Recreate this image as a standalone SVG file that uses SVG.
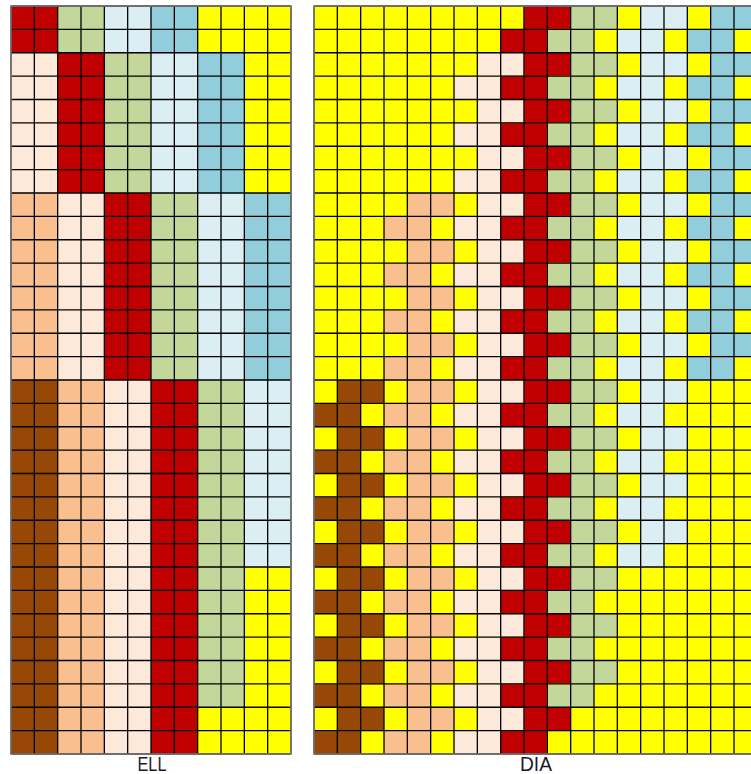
<svg xmlns="http://www.w3.org/2000/svg" width="751" height="774" viewBox="0 0 751 774">
<style>
.y{fill:#FFFF00}.r{fill:#C00000}.g{fill:#C4D79B}.lb{fill:#DAEEF3}.b{fill:#92CDDC}.p{fill:#FDE9D9}.s{fill:#FABF8F}.br{fill:#974806}
.grid{fill:none;stroke:#000;stroke-width:1.3}
.frame{fill:none;stroke:#808080;stroke-width:1.5}
.lbl{font-family:"Liberation Sans",Arial,sans-serif;font-size:21px;fill:#1a1a2a;text-anchor:middle}
</style>
<defs>
<pattern id="pbr" patternUnits="userSpaceOnUse" x="314" y="6" width="70" height="46.75"><rect x="23.333" y="0" width="46.667" height="23.375" fill="#974806"/><rect x="0" y="23.375" width="46.667" height="23.375" fill="#974806"/></pattern>
<pattern id="ps" patternUnits="userSpaceOnUse" x="384" y="6" width="70" height="46.75"><rect x="23.333" y="0" width="46.667" height="23.375" fill="#FABF8F"/><rect x="0" y="23.375" width="46.667" height="23.375" fill="#FABF8F"/></pattern>
<pattern id="pp" patternUnits="userSpaceOnUse" x="454" y="6" width="70" height="46.75"><rect x="23.333" y="0" width="46.667" height="23.375" fill="#FDE9D9"/><rect x="0" y="23.375" width="46.667" height="23.375" fill="#FDE9D9"/></pattern>
<pattern id="pr" patternUnits="userSpaceOnUse" x="500.667" y="6" width="70" height="46.75"><rect x="23.333" y="0" width="46.667" height="23.375" fill="#C00000"/><rect x="0" y="23.375" width="46.667" height="23.375" fill="#C00000"/></pattern>
<pattern id="pg" patternUnits="userSpaceOnUse" x="547.333" y="6" width="70" height="46.75"><rect x="23.333" y="0" width="46.667" height="23.375" fill="#C4D79B"/><rect x="0" y="23.375" width="46.667" height="23.375" fill="#C4D79B"/></pattern>
<pattern id="plb" patternUnits="userSpaceOnUse" x="617.333" y="6" width="70" height="46.75"><rect x="23.333" y="0" width="46.667" height="23.375" fill="#DAEEF3"/><rect x="0" y="23.375" width="46.667" height="23.375" fill="#DAEEF3"/></pattern>
<pattern id="pb" patternUnits="userSpaceOnUse" x="687.333" y="6" width="70" height="46.75"><rect x="23.333" y="0" width="46.667" height="23.375" fill="#92CDDC"/><rect x="0" y="23.375" width="46.667" height="23.375" fill="#92CDDC"/></pattern>
</defs>
<g id="ell">
<rect class="y" x="11" y="6" width="280" height="748"/>
<rect class="r" x="11" y="6" width="46.667" height="46.75"/>
<rect class="g" x="57.667" y="6" width="46.667" height="46.75"/>
<rect class="lb" x="104.333" y="6" width="46.667" height="46.75"/>
<rect class="b" x="151" y="6" width="46.667" height="46.75"/>
<rect class="p" x="11" y="52.75" width="46.667" height="140.25"/>
<rect class="r" x="57.667" y="52.75" width="46.667" height="140.25"/>
<rect class="g" x="104.333" y="52.75" width="46.667" height="140.25"/>
<rect class="lb" x="151" y="52.75" width="46.667" height="140.25"/>
<rect class="b" x="197.667" y="52.75" width="46.667" height="140.25"/>
<rect class="s" x="11" y="193" width="46.667" height="187"/>
<rect class="p" x="57.667" y="193" width="46.667" height="187"/>
<rect class="r" x="104.333" y="193" width="46.667" height="187"/>
<rect class="g" x="151" y="193" width="46.667" height="187"/>
<rect class="lb" x="197.667" y="193" width="46.667" height="187"/>
<rect class="b" x="244.333" y="193" width="46.667" height="187"/>
<rect class="br" x="11" y="380" width="46.667" height="374"/>
<rect class="s" x="57.667" y="380" width="46.667" height="374"/>
<rect class="p" x="104.333" y="380" width="46.667" height="374"/>
<rect class="r" x="151" y="380" width="46.667" height="374"/>
<rect class="g" x="197.667" y="380" width="46.667" height="327.25"/>
<rect class="lb" x="244.333" y="380" width="46.667" height="187"/>
<path class="grid" d="M11 6V754M34.333 6V754M57.667 6V754M81 6V754M104.333 6V754M127.667 6V754M151 6V754M174.333 6V754M197.667 6V754M221 6V754M244.333 6V754M267.667 6V754M291 6V754
M11 6H291M11 29.375H291M11 52.75H291M11 76.125H291M11 99.5H291M11 122.875H291M11 146.25H291M11 169.625H291M11 193H291M11 216.375H291M11 239.75H291M11 263.125H291M11 286.5H291M11 309.875H291M11 333.25H291M11 356.625H291M11 380H291M11 403.375H291M11 426.75H291M11 450.125H291M11 473.5H291M11 496.875H291M11 520.25H291M11 543.625H291M11 567H291M11 590.375H291M11 613.75H291M11 637.125H291M11 660.5H291M11 683.875H291M11 707.25H291M11 730.625H291M11 754H291"/>
<rect class="frame" x="11" y="6" width="280" height="748"/>
<text class="lbl" x="152" y="771" textLength="29" lengthAdjust="spacingAndGlyphs">ELL</text>
</g>
<g id="dia">
<rect class="y" x="314" y="6" width="443.333" height="748"/>
<rect fill="url(#pbr)" x="314" y="380" width="70" height="374"/>
<rect fill="url(#ps)" x="384" y="193" width="70" height="561"/>
<rect fill="url(#pp)" x="454" y="52.75" width="70" height="701.25"/>
<rect fill="url(#pr)" x="500.667" y="6" width="70" height="748"/>
<rect fill="url(#pg)" x="547.333" y="6" width="70" height="701.25"/>
<rect fill="url(#plb)" x="617.333" y="6" width="70" height="561"/>
<rect fill="url(#pb)" x="687.333" y="6" width="70" height="374"/>
<path class="grid" d="M314 6V754M337.333 6V754M360.667 6V754M384 6V754M407.333 6V754M430.667 6V754M454 6V754M477.333 6V754M500.667 6V754M524 6V754M547.333 6V754M570.667 6V754M594 6V754M617.333 6V754M640.667 6V754M664 6V754M687.333 6V754M710.667 6V754M734 6V754M757.333 6V754
M314 6H757.333M314 29.375H757.333M314 52.75H757.333M314 76.125H757.333M314 99.5H757.333M314 122.875H757.333M314 146.25H757.333M314 169.625H757.333M314 193H757.333M314 216.375H757.333M314 239.75H757.333M314 263.125H757.333M314 286.5H757.333M314 309.875H757.333M314 333.25H757.333M314 356.625H757.333M314 380H757.333M314 403.375H757.333M314 426.75H757.333M314 450.125H757.333M314 473.5H757.333M314 496.875H757.333M314 520.25H757.333M314 543.625H757.333M314 567H757.333M314 590.375H757.333M314 613.75H757.333M314 637.125H757.333M314 660.5H757.333M314 683.875H757.333M314 707.25H757.333M314 730.625H757.333M314 754H757.333"/>
<rect class="frame" x="314" y="6" width="443.333" height="748"/>
<text class="lbl" x="536" y="771" textLength="32" lengthAdjust="spacingAndGlyphs">DIA</text>
</g>
</svg>
